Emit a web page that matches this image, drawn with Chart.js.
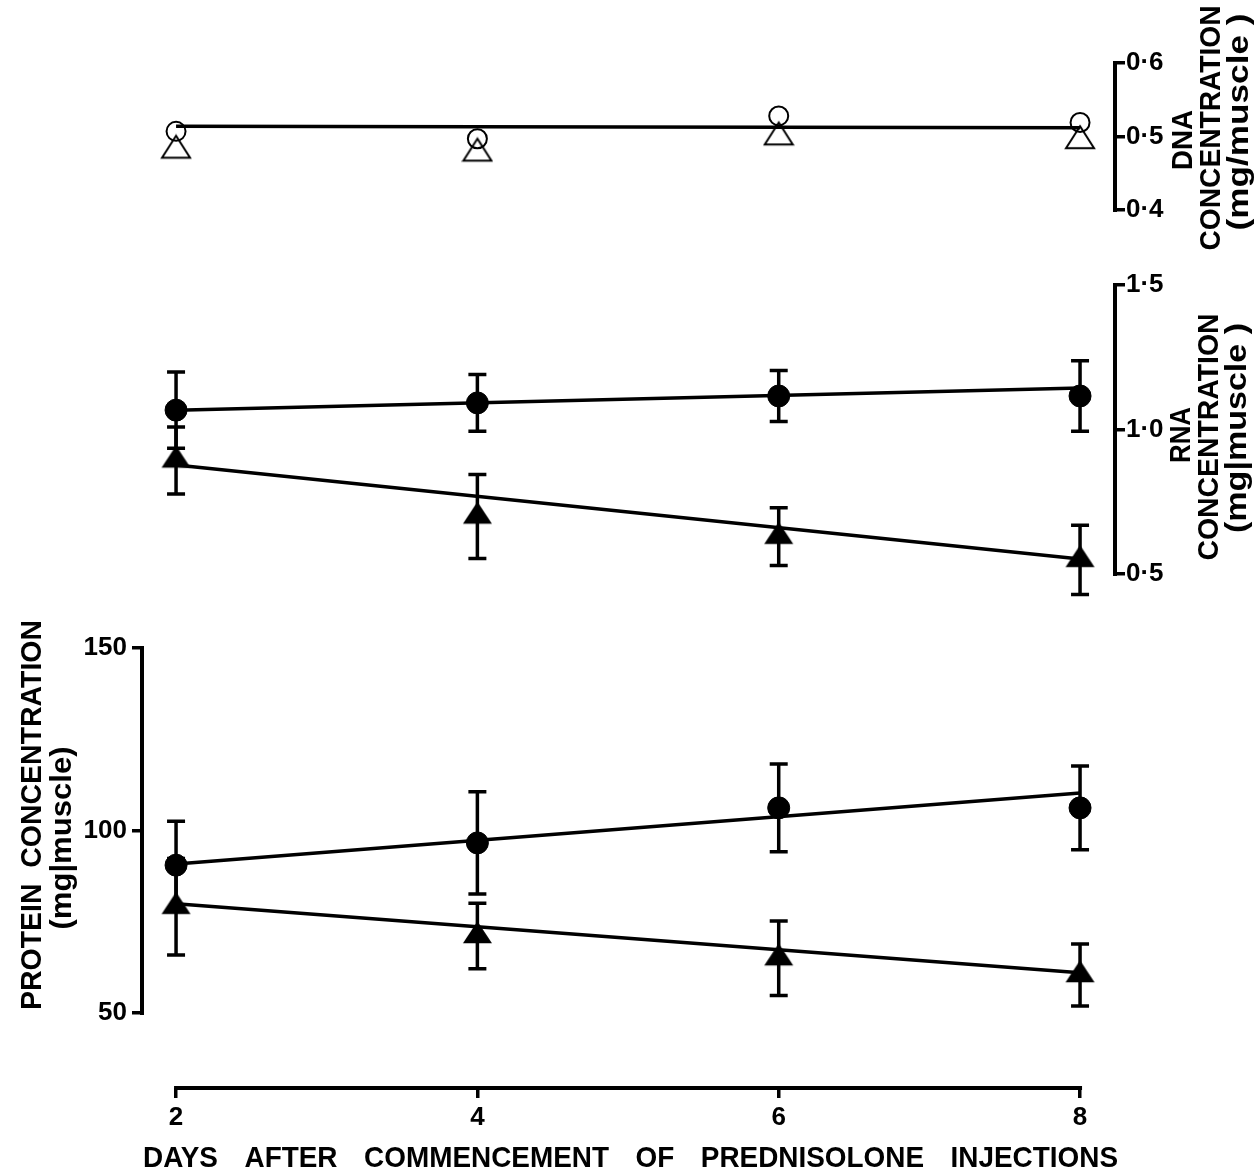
<!DOCTYPE html>
<html>
<head>
<meta charset="utf-8">
<script src="https://cdn.jsdelivr.net/npm/chart.js@4.4.1/dist/chart.umd.min.js"></script>
<style>
  html, body { margin: 0; padding: 0; background: #fff; }
  #wrap { width: 1259px; height: 1172px; }
</style>
</head>
<body>
<div id="wrap"><canvas id="chart" width="1259" height="1172"></canvas></div>
<script>
// x values
const days = [2, 4, 6, 8];
const fitDays = [2, 8];
const dayTicks = [2, 4, 6, 8];

// DNA (open symbols)
const dnaCircle = [0.507, 0.497, 0.528, 0.519];
const dnaTriangle = [0.481, 0.477, 0.499, 0.494];
const dnaFit = [0.514, 0.512];
const dnaTicks = [0.4, 0.5, 0.6];

// RNA
const rnaCircle = [1.067, 1.092, 1.116, 1.116];
const rnaCircleErr = [0.132, 0.098, 0.088, 0.122];
const rnaTriangle = [0.893, 0.699, 0.629, 0.549];
const rnaTriangleErr = [0.116, 0.145, 0.10, 0.12];
const rnaCircleFit = [1.067, 1.144];
const rnaTriangleFit = [0.877, 0.552];
const rnaTicks = [0.5, 1.0, 1.5];

// protein
const proteinCircle = [90.5, 96.6, 106.2, 106.2];
const proteinCircleErr = [12, 14, 12, 11.5];
const proteinTriangle = [79.1, 71.1, 65.0, 60.4];
const proteinTriangleErr = [13.2, 9, 10.2, 8.5];
const proteinCircleFit = [90.8, 110.3];
const proteinTriangleFit = [79.9, 61.0];
const proteinTicks = [50, 100, 150];

const xTitle = 'DAYS AFTER COMMENCEMENT OF PREDNISOLONE INJECTIONS';

const black = '#000';
const family = '"Liberation Sans", Arial, sans-serif';
const tickFont = { family: family, size: 26, weight: 'bold' };
const titleFont = 'bold 30px ' + family;

const pts = (xs, ys) => xs.map((x, i) => ({ x: x, y: ys[i] }));
const fixed = list => scale => { scale.ticks = list.map(v => ({ value: v })); };
const dotLabel = v => Number(v).toFixed(1).replace('.', '·');

// flat triangle marker, centroid in the middle of the canvas
function triangleMark(w, h, filled) {
    const c = document.createElement('canvas');
    const W = Math.ceil(w) + 4, H = Math.ceil(4 * h / 3) + 4;
    c.width = W; c.height = H;
    const g = c.getContext('2d');
    const top = H / 2 - 2 * h / 3;
    g.beginPath();
    g.moveTo(W / 2, top);
    g.lineTo(W / 2 + w / 2, top + h);
    g.lineTo(W / 2 - w / 2, top + h);
    g.closePath();
    if (filled) {
        g.fillStyle = black; g.fill();
    } else {
        g.lineWidth = 2; g.lineJoin = 'miter'; g.strokeStyle = black; g.stroke();
    }
    return c;
}
const solidTri = triangleMark(29, 22, true);
const openTri = triangleMark(28, 22, false);

function fitLine(ys, axis) {
    return {
        data: pts(fitDays, ys), yAxisID: axis, showLine: true,
        borderColor: black, borderWidth: 3.5, pointRadius: 0, order: 2
    };
}

function marks(ys, axis, style, filled, r, err) {
    return {
        data: pts(days, ys), yAxisID: axis, showLine: false,
        pointStyle: style, pointRadius: r, pointHoverRadius: r,
        pointBorderWidth: filled ? 1 : 2, pointBorderColor: black,
        pointBackgroundColor: filled ? black : 'rgba(0,0,0,0)',
        errorBars: err || null, order: 1
    };
}

function yTicks(fmt, pad) {
    return { color: black, font: tickFont, padding: pad, autoSkip: false, callback: fmt };
}

const tickGrid = { drawOnChartArea: false, drawTicks: true, tickLength: 10, color: black, lineWidth: 3.5 };

// error bars, axis brackets and titles
const paperAxes = {
    id: 'paperAxes',
    beforeDatasetsDraw(chart) {
        const ctx = chart.ctx;
        const xs = chart.scales.x;
        ctx.save();
        ctx.strokeStyle = black;
        ctx.lineWidth = 3.5;
        chart.data.datasets.forEach(ds => {
            if (!ds.errorBars) return;
            const ys = chart.scales[ds.yAxisID];
            ds.data.forEach((p, i) => {
                const e = ds.errorBars[i];
                const px = xs.getPixelForValue(p.x);
                const top = ys.getPixelForValue(p.y + e);
                const bot = ys.getPixelForValue(p.y - e);
                ctx.beginPath();
                ctx.moveTo(px, top); ctx.lineTo(px, bot);
                ctx.moveTo(px - 9, top); ctx.lineTo(px + 9, top);
                ctx.moveTo(px - 9, bot); ctx.lineTo(px + 9, bot);
                ctx.stroke();
            });
        });
        ctx.restore();
    },
    afterDraw(chart) {
        const ctx = chart.ctx;
        const s = chart.scales;
        ctx.save();
        ctx.strokeStyle = black;
        ctx.lineWidth = 4;
        ctx.lineCap = 'square';

        // axis brackets
        const bracketV = (scale, x, list) => {
            ctx.beginPath();
            ctx.moveTo(x, scale.getPixelForValue(list[0]));
            ctx.lineTo(x, scale.getPixelForValue(list[list.length - 1]));
            ctx.stroke();
        };
        bracketV(s.yP, s.yP.right, proteinTicks);
        bracketV(s.yR, s.yR.left, rnaTicks);
        bracketV(s.yD, s.yD.left, dnaTicks);
        ctx.beginPath();
        ctx.moveTo(s.x.getPixelForValue(dayTicks[0]), s.x.top);
        ctx.lineTo(s.x.getPixelForValue(dayTicks[dayTicks.length - 1]), s.x.top);
        ctx.stroke();

        // rotated titles, stretched to the length they have in the figure
        ctx.fillStyle = black;
        const rot = (text, cx, cy, len) => {
            ctx.save();
            ctx.translate(cx, cy);
            ctx.rotate(-Math.PI / 2);
            ctx.font = titleFont;
            ctx.scale(len / ctx.measureText(text).width, 1);
            ctx.textAlign = 'center';
            ctx.textBaseline = 'middle';
            ctx.fillText(text, 0, 0);
            ctx.restore();
        };
        rot('PROTEIN  CONCENTRATION', 33, 815, 390);
        rot('(mg|muscle)', 63, 838, 183);
        rot('RNA', 1182, 435, 56);
        rot('CONCENTRATION', 1210, 437, 247);
        rot('(mg|muscle )', 1238, 428, 210);
        rot('DNA', 1184, 140, 60);
        rot('CONCENTRATION', 1212, 128, 245);
        rot('(mg/muscle )', 1240, 122, 217);

        // x title, words spread across the axis width
        ctx.font = titleFont;
        ctx.textAlign = 'left';
        ctx.textBaseline = 'middle';
        const words = xTitle.split(' ');
        const widths = words.map(w => ctx.measureText(w).width * 0.93);
        const total = widths.reduce((a, b) => a + b, 0);
        const gap = (975 - total) / (words.length - 1);
        let tx = 143;
        words.forEach((w, i) => {
            ctx.save();
            ctx.translate(tx, 1159);
            ctx.scale(0.93, 1);
            ctx.fillText(w, 0, 0);
            ctx.restore();
            tx += widths[i] + gap;
        });
        ctx.restore();
    }
};

new Chart(document.getElementById('chart'), {
    type: 'scatter',
    data: {
        datasets: [
            fitLine(dnaFit, 'yD'),
            marks(dnaCircle, 'yD', 'circle', false, 9.5),
            marks(dnaTriangle, 'yD', openTri, false, 14),
            fitLine(rnaCircleFit, 'yR'),
            fitLine(rnaTriangleFit, 'yR'),
            marks(rnaCircle, 'yR', 'circle', true, 11, rnaCircleErr),
            marks(rnaTriangle, 'yR', solidTri, true, 15, rnaTriangleErr),
            fitLine(proteinCircleFit, 'yP'),
            fitLine(proteinTriangleFit, 'yP'),
            marks(proteinCircle, 'yP', 'circle', true, 11, proteinCircleErr),
            marks(proteinTriangle, 'yP', solidTri, true, 15, proteinTriangleErr)
        ]
    },
    options: {
        responsive: false,
        devicePixelRatio: 1,
        animation: false,
        events: [],
        layout: { padding: { top: 40, left: 0, right: 0, bottom: 0 } },
        plugins: { legend: { display: false }, tooltip: { enabled: false } },
        scales: {
            x: {
                type: 'linear', position: 'bottom', min: 1.774, max: 8.232,
                afterBuildTicks: fixed(dayTicks),
                afterFit: sc => { sc.height = 84; },
                grid: tickGrid,
                border: { display: false },
                ticks: { color: black, font: tickFont, padding: 4, maxRotation: 0, autoSkip: false, callback: v => String(v) }
            },
            yP: {
                type: 'linear', position: 'left', min: 29.45, max: 316.58,
                afterBuildTicks: fixed(proteinTicks),
                afterFit: sc => { sc.width = 142; },
                grid: tickGrid,
                border: { display: false },
                ticks: yTicks(v => String(v), 5)
            },
            yD: {
                type: 'linear', position: 'right', stack: 'right', stackWeight: 210,
                min: 0.3456, max: 0.6313,
                afterBuildTicks: fixed(dnaTicks),
                afterFit: sc => { sc.width = 144; },
                grid: tickGrid,
                border: { display: false },
                ticks: yTicks(dotLabel, 1)
            },
            yR: {
                type: 'linear', position: 'right', stack: 'right', stackWeight: 838,
                min: -1.2785, max: 1.6211,
                afterBuildTicks: fixed(rnaTicks),
                afterFit: sc => { sc.width = 144; },
                grid: tickGrid,
                border: { display: false },
                ticks: yTicks(dotLabel, 1)
            }
        }
    },
    plugins: [paperAxes]
});
</script>
</body>
</html>
